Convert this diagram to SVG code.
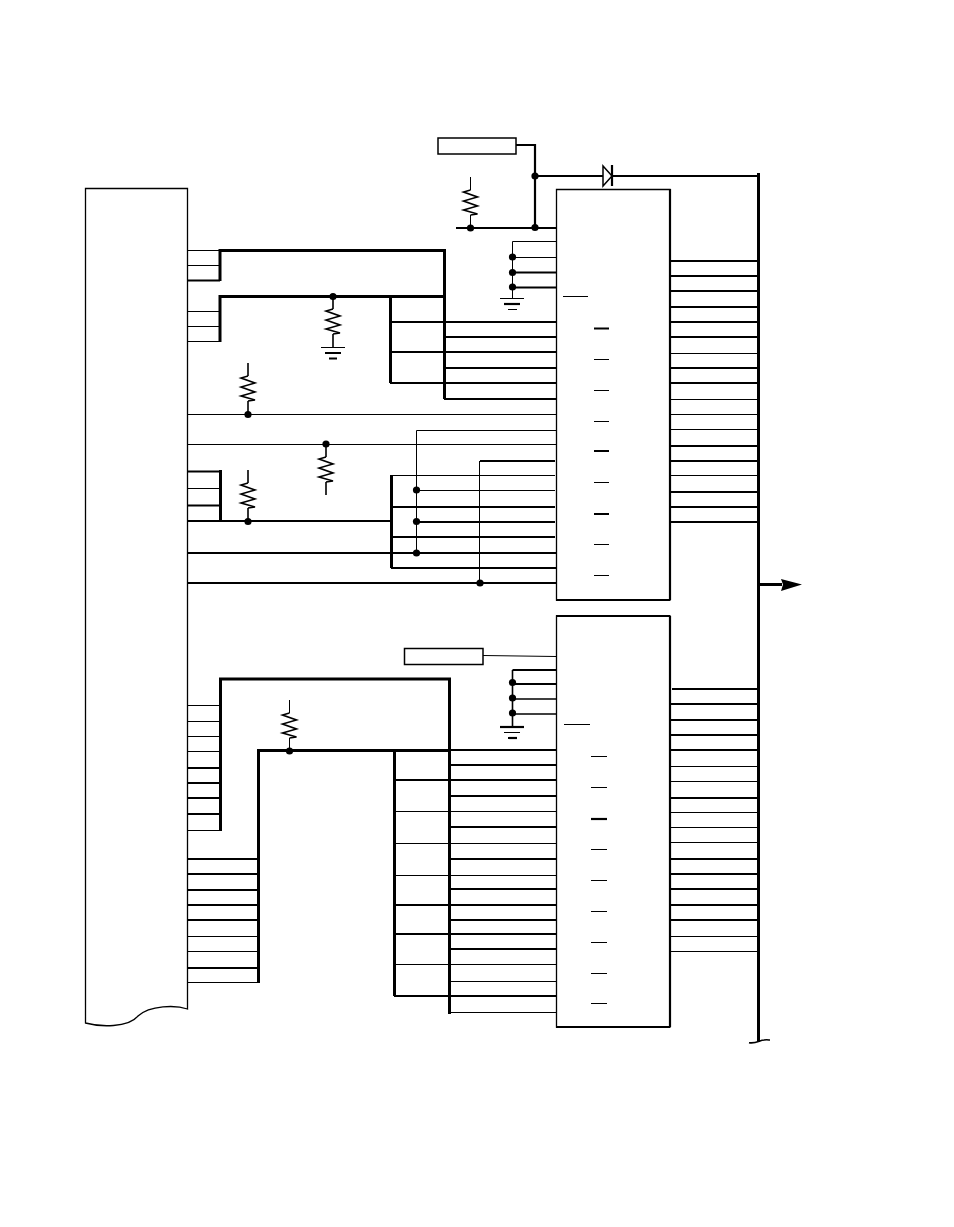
<svg xmlns="http://www.w3.org/2000/svg" width="954" height="1227" viewBox="0 0 954 1227">
<style>
.n{fill:#fff;stroke:#000;stroke-width:1.3}
.box{fill:#fff;stroke:#000;stroke-width:1.5}
path,polyline,line{fill:none;stroke:#000;stroke-linecap:butt}
.t{stroke-width:1}
.m{stroke-width:1.6}
.k{stroke-width:2.2}
.b{stroke-width:3}
.dot{fill:#000;stroke:none}
#connectors path{stroke-linejoin:miter}
</style>
<defs>
<g id="res"><path class="m" d="M0,0 L-7,2 L7,7 L-7,11 L7,16 L-7,20 L7,24 L0,25"/></g>
<circle id="d" class="dot" r="3.600"/>
</defs>
<rect width="954" height="1227" fill="#fff"/>
<g id="connectors">
<g class="t">
<path d="M188 250.500H220M188 265.500H220M188 311.500H220M188 326.500H220M188 341.500H220M188 414.500H556M187 444.500H556M416.500 430.500H556M416.500 430.500V553M391 475.500H555M416 490.500H555M479.500 461V583M188 488.500H220"/>
<path d="M188 705.500H220M188 721.500H220M188 736.500H220M188 751.500H220M188 830.500H220M188 936.500H258M188 951.500H258M188 982.500H258"/>
<path d="M394 811.500H556M394 843.500H556M394 875.500H556M394 964.500H556M449 981.500H556M449 1012.500H556"/>
<path d="M670 353.500H758M670 399.500H758M670 414.500H758M670 429.500H758M670 475.500H758M671 766.500H758M671 781.500H758M671 812.500H758M671 827.500H758M671 842.500H758M671 936.500H758M671 951.500H758"/>
<path d="M512.500 241.500H556M512.500 241.500V298M512.500 257.500H556M483 655.500L556 656.500"/>
</g>
<g class="k">
<path d="M188 280.500H220M444 322H556M390 322H444M444 337H556M390 352H556M444 368H556M390 383H556M444 399H556"/>
<path d="M188 471.500H220M188 505.500H220M188 521H390M188 553H556M188 583H556M480 461H555M391 507H555M416 522H555M391 537H555M391 568H556"/>
<path d="M188 768H220M188 783H220M188 798H220M188 814H220M188 859H258M188 874H258M188 890H258M188 905H258M188 920H258M188 968H258"/>
<path d="M449 750H556M449 765H556M394 780H556M449 796H556M449 827H556M449 859H556M449 889H556M394 905H556M449 920H556M394 934H556M449 949H556M394 996H556"/>
<path d="M670 261H758M670 276H758M670 291H758M670 307H758M670 322H758M670 337H758M670 368H758M670 383H758M670 446H758M670 461H758M670 492H758M670 507H758M670 522H758"/>
<path d="M672 689H758M671 704H758M671 720H758M671 735H758M671 750H758M671 798H758M671 859H758M671 874H758M671 889H758M671 905H758M671 920H758"/>
<path d="M516 145H535V228M535 176H603M612 176H758M456 228H556M512.500 272.500H556M512.500 287.500H556M512.500 670H556M512.500 684H556"/>
</g>
<g class="m"><path d="M512.500 670V727M512.500 699H556M512.500 714H556"/></g>
<g class="b">
<path d="M220 281V250.500H444.500V399"/>
<path d="M220 342V296.500H444"/>
<path d="M390.500 296.500V383"/>
<path d="M220.500 470V522"/>
<path d="M391.500 475V568"/>
<path d="M220.500 831V679H449.500V1014"/>
<path d="M258.500 983V750.500H449"/>
<path d="M394.500 750V996"/>
<path d="M758.500 173V1042"/>
<path d="M758 584.500H782"/>
</g>
<path class="m" d="M749 1042.700C756 1044 760 1040 764 1040C767 1039.500 769 1040 770 1040"/>
<path class="dot" d="M781 579L802 584.500L781 591L783 584.500Z"/>
</g>
<g id="left-block"><path class="n" d="M85.500 1023V188.500H187.500V1009C176 1005 150 1005 138 1016C128 1028 100 1027 85.500 1023Z"/></g>
<g id="ic-1"><path class="n" d="M556.500 600V189.500H670V600Z"/><path class="k" d="M556 600H670M670 189V600"/>
<path class="t" d="M563 296.500H588M594 359.500H609M594 390.500H609M594 421.500H609M594 482.500H609M594 544.500H609M594 575.500H609"/><path class="k" d="M594 328.500H609M594 451H609M594 514H609"/></g>
<g id="ic-2"><path class="n" d="M556.500 1027V616H670V1027Z"/><path class="k" d="M556 1027H670M670 616V1027M556 616H670"/>
<path class="t" d="M564 724.500H590M591 756.500H607M591 787.500H607M591 849.500H607M591 880.500H607M591 911.500H607M591 942.500H607M591 973.500H607M591 1003.500H607"/><path class="k" d="M591 819H607"/></g>
<g id="supply-1"><rect class="box" x="438" y="138" width="78" height="16"/></g>
<g id="supply-2"><rect class="box" x="404.500" y="648.500" width="78.500" height="16"/></g>
<g id="diode"><path d="M603 166V186L612 176Z" fill="#fff" stroke="#333" stroke-width="1.500"/><path class="k" d="M612 165V186"/></g>
<g id="r1"><path class="t" d="M470.500 177V190M470.500 215V228"/><use href="#res" x="470.500" y="190"/></g>
<g id="r2"><path class="m" d="M333 296V309M333 334V347"/><use href="#res" x="333" y="309"/><path class="t" d="M321 347.500H345"/><path class="k" d="M325 353H341M329 358.500H337"/></g>
<g id="r3"><path class="m" d="M248 363V376M248 401V414"/><use href="#res" x="248" y="376"/></g>
<g id="r4"><path class="m" d="M326 444V457M326 482V495"/><use href="#res" x="326" y="457"/></g>
<g id="r5"><path class="m" d="M248 470V483M248 508V521"/><use href="#res" x="248" y="483"/></g>
<g id="r6"><path class="t" d="M289.500 700V713M289.500 738V751"/><use href="#res" x="289.500" y="713"/></g>
<g id="gnd-1"><path class="t" d="M500 298.500H524"/><path class="k" d="M504 304H520"/><path class="t" d="M508 309.500H517"/></g>
<g id="gnd-2"><path class="k" d="M500 727H524"/><path class="t" d="M504 732.500H520"/><path class="k" d="M508 738H517"/></g>
<g id="junctions">
<use href="#d" x="535" y="176"/><use href="#d" x="535" y="227.500"/><use href="#d" x="470.500" y="228"/>
<use href="#d" x="512.500" y="257"/><use href="#d" x="512.500" y="272.500"/><use href="#d" x="512.500" y="287"/>
<use href="#d" x="333" y="296.500"/><use href="#d" x="248" y="414.500"/><use href="#d" x="326" y="444"/><use href="#d" x="248" y="521.500"/>
<use href="#d" x="416.500" y="490"/><use href="#d" x="416.500" y="521.500"/><use href="#d" x="416.500" y="553"/><use href="#d" x="480" y="583"/>
<use href="#d" x="512.500" y="682.500"/><use href="#d" x="512.500" y="698"/><use href="#d" x="512.500" y="713"/><use href="#d" x="289.500" y="751"/>
</g>
</svg>
